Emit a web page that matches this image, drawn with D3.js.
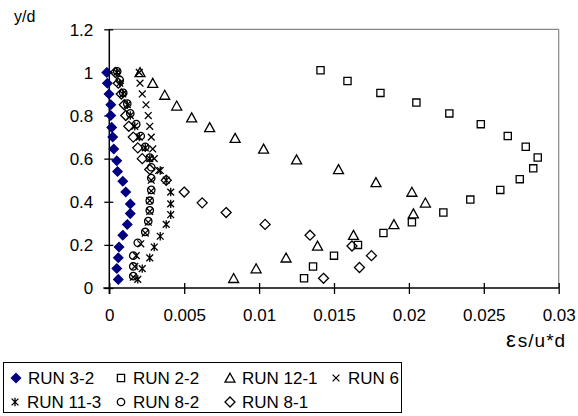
<!DOCTYPE html>
<html>
<head>
<meta charset="utf-8">
<script src="https://cdn.jsdelivr.net/npm/d3@7"></script>
<style>
  html, body { margin: 0; padding: 0; background: #fff; }
  svg { display: block; }
  text { font-family: "Liberation Sans", Arial, sans-serif; fill: #000; }
</style>
</head>
<body>
<svg id="chart" width="578" height="416"></svg>
<script>
// Relative depth y/d and the profile value εs/u*d for each run
const run32_y  = [1.0, 0.95, 0.9, 0.85, 0.8, 0.745, 0.7, 0.645, 0.59, 0.54, 0.495, 0.445, 0.39, 0.345, 0.295, 0.245, 0.19, 0.14, 0.09, 0.04];
const run32_x  = [-0.00017, -0.00013, -0.00002, 0.0001, 0.0001, 0.00016, 0.00023, 0.0003, 0.0005, 0.00055, 0.0009, 0.0011, 0.0014, 0.0014, 0.0012, 0.0009, 0.00065, 0.0006, 0.0005, 0.0006];

const run22_y  = [1.01, 0.96, 0.905, 0.86, 0.81, 0.76, 0.705, 0.655, 0.605, 0.555, 0.505, 0.455, 0.41, 0.35, 0.305, 0.255, 0.2, 0.15, 0.1, 0.045];
const run22_x  = [0.0141, 0.0159, 0.0181, 0.0205, 0.0227, 0.0248, 0.0266, 0.0278, 0.0286, 0.0283, 0.0274, 0.0261, 0.0241, 0.0223, 0.0202, 0.0183, 0.0166, 0.015, 0.0136, 0.013];

const run121_y = [1.0, 0.95, 0.895, 0.845, 0.79, 0.745, 0.695, 0.645, 0.595, 0.55, 0.49, 0.445, 0.395, 0.345, 0.295, 0.245, 0.195, 0.14, 0.09, 0.045];
const run121_x = [0.00205, 0.0029, 0.0037, 0.0045, 0.0055, 0.0067, 0.0084, 0.0103, 0.0125, 0.0153, 0.0178, 0.0202, 0.0211, 0.0203, 0.019, 0.0163, 0.0139, 0.0118, 0.0098, 0.0083];

const run6_y   = [1.0, 0.95, 0.9, 0.85, 0.8, 0.75, 0.7, 0.645, 0.6, 0.545, 0.5, 0.45, 0.405, 0.355, 0.305, 0.255, 0.205, 0.15, 0.1, 0.05];
const run6_x   = [0.002, 0.00205, 0.0022, 0.00245, 0.0026, 0.0027, 0.0028, 0.0029, 0.003, 0.0033, 0.0028, 0.0028, 0.0027, 0.0027, 0.0026, 0.0024, 0.0021, 0.0018, 0.0017, 0.0016];

const run113_y = [1.0, 0.95, 0.9, 0.85, 0.8, 0.75, 0.7, 0.65, 0.6, 0.545, 0.5, 0.445, 0.39, 0.34, 0.295, 0.24, 0.19, 0.14, 0.09, 0.04];
const run113_x = [0.0005, 0.0007, 0.0009, 0.0012, 0.0014, 0.0017, 0.002, 0.0024, 0.0027, 0.0034, 0.0038, 0.0041, 0.0041, 0.0041, 0.0038, 0.0034, 0.003, 0.0027, 0.0022, 0.0019];

const run82_y  = [1.005, 0.965, 0.905, 0.855, 0.81, 0.76, 0.705, 0.655, 0.605, 0.56, 0.51, 0.455, 0.405, 0.36, 0.31, 0.26, 0.21, 0.15, 0.1, 0.055];
const run82_x  = [0.00053, 0.0007, 0.00093, 0.0012, 0.0014, 0.0018, 0.0021, 0.0024, 0.0027, 0.0028, 0.0028, 0.0028, 0.0027, 0.0027, 0.0026, 0.0024, 0.0019, 0.0016, 0.0016, 0.0016];

const run81_y  = [1.0, 0.95, 0.9, 0.85, 0.8, 0.75, 0.7, 0.65, 0.6, 0.55, 0.5, 0.445, 0.395, 0.35, 0.295, 0.245, 0.195, 0.15, 0.095, 0.045];
const run81_x  = [0.0004, 0.0006, 0.0008, 0.001, 0.0011, 0.0013, 0.0016, 0.0019, 0.0022, 0.0027, 0.0038, 0.005, 0.0062, 0.0078, 0.0104, 0.0134, 0.0162, 0.0175, 0.0167, 0.0143];

const seriesNames = ["RUN 3-2", "RUN 2-2", "RUN 12-1", "RUN 6", "RUN 11-3", "RUN 8-2", "RUN 8-1"];
const xTicks = [0, 0.005, 0.01, 0.015, 0.02, 0.025, 0.03];
const xTickLabels = ["0", "0.005", "0.01", "0.015", "0.02", "0.025", "0.03"];
const yTicks = [0, 0.2, 0.4, 0.6, 0.8, 1.0, 1.2];
const yTickLabels = ["0", "0.2", "0.4", "0.6", "0.8", "1", "1.2"];

// Marker shapes (path strings centred on 0,0)
const shapes = {
  diamondFill: "M0,-4.6L4.6,0L0,4.6L-4.6,0Z",
  square: "M-3.6,-3.6H3.6V3.6H-3.6Z",
  triangle: "M0,-4.8L5,4.2H-5Z",
  cross: "M-3.4,-3.4L3.4,3.4M3.4,-3.4L-3.4,3.4",
  star: "M-3.4,-3.4L3.4,3.4M3.4,-3.4L-3.4,3.4M0,-4.2V4.2",
  circle: "M3.7,0A3.7,3.7 0 1,1 -3.7,0A3.7,3.7 0 1,1 3.7,0Z",
  diamond: "M0,-5L5,0L0,5L-5,0Z"
};

const series = [
  { name: seriesNames[0], xs: run32_x,  ys: run32_y,  shape: shapes.diamondFill, fill: "#000080", stroke: "#000080" },
  { name: seriesNames[1], xs: run22_x,  ys: run22_y,  shape: shapes.square,      fill: "none",    stroke: "#000" },
  { name: seriesNames[2], xs: run121_x, ys: run121_y, shape: shapes.triangle,    fill: "none",    stroke: "#000" },
  { name: seriesNames[3], xs: run6_x,   ys: run6_y,   shape: shapes.cross,       fill: "none",    stroke: "#000" },
  { name: seriesNames[4], xs: run113_x, ys: run113_y, shape: shapes.star,        fill: "none",    stroke: "#000" },
  { name: seriesNames[5], xs: run82_x,  ys: run82_y,  shape: shapes.circle,      fill: "none",    stroke: "#000" },
  { name: seriesNames[6], xs: run81_x,  ys: run81_y,  shape: shapes.diamond,     fill: "none",    stroke: "#000" }
];

const svg = d3.select("#chart");
const x = d3.scaleLinear().domain([0, 0.03]).range([109.3, 558.7]);
const y = d3.scaleLinear().domain([0, 1.2]).range([288, 29.3]);

// plot-area frame (top and right edges)
svg.append("path")
  .attr("d", `M${x(0)},${y(1.2)}H${x(0.03)}V${y(0)}`)
  .attr("fill", "none").attr("stroke", "#888").attr("stroke-width", 1.2);

// axes with ticks crossing the axis line
const xAxis = d3.axisBottom(x).tickValues(xTicks).tickSize(0).tickFormat((d, i) => xTickLabels[i]);
const gx = svg.append("g").attr("transform", `translate(0,${y(0)})`).call(xAxis);
gx.select(".domain").remove();
gx.append("line").attr("x1", x(0) - 6).attr("x2", x(0.03)).attr("stroke", "#000").attr("stroke-width", 1.5);
gx.selectAll(".tick").append("line").attr("y1", -5).attr("y2", 6).attr("stroke", "#000").attr("stroke-width", 1.3);
gx.selectAll(".tick text").attr("y", 33).attr("dy", 0).attr("font-size", 17).attr("font-family", "Liberation Sans, Arial, sans-serif");

const yAxis = d3.axisLeft(y).tickValues(yTicks).tickSize(0).tickFormat((d, i) => yTickLabels[i]);
const gy = svg.append("g").attr("transform", `translate(${x(0)},0)`).call(yAxis);
gy.select(".domain").remove();
gy.append("line").attr("y1", y(1.2)).attr("y2", y(0) + 6).attr("stroke", "#000").attr("stroke-width", 1.5);
gy.selectAll(".tick").append("line").attr("x1", -5).attr("x2", 4).attr("stroke", "#000").attr("stroke-width", 1.3);
gy.selectAll(".tick text").attr("x", -16).attr("dy", "0.35em").attr("font-size", 17).attr("font-family", "Liberation Sans, Arial, sans-serif");

// axis titles
svg.append("text").attr("x", 14).attr("y", 22).attr("font-size", 16).text("y/d");
const xt = svg.append("text").attr("x", 506).attr("y", 347).attr("font-size", 19).attr("letter-spacing", 1);
xt.append("tspan").attr("font-size", 22).text("ε");
xt.append("tspan").attr("dx", 1).text("s/u*d");

// data markers
series.forEach(s => {
  const pts = s.xs.map((v, i) => [v, s.ys[i]]);
  svg.append("g").selectAll("path")
    .data(pts).join("path")
    .attr("transform", d => `translate(${x(d[0])},${y(d[1])})`)
    .attr("d", s.shape)
    .attr("fill", s.fill)
    .attr("stroke", s.stroke)
    .attr("stroke-width", 1.3);
});

// legend
const lg = svg.append("g");
lg.append("rect").attr("x", 3.5).attr("y", 362.5).attr("width", 398).attr("height", 50)
  .attr("fill", "#fff").attr("stroke", "#000").attr("stroke-width", 1);
const legendPos = [
  [16, 378], [121, 378], [230, 378], [336, 378],
  [15, 402], [121, 402], [230, 402]
];
series.forEach((s, i) => {
  const [lx, ly] = legendPos[i];
  lg.append("path").attr("transform", `translate(${lx},${ly})`).attr("d", s.shape)
    .attr("fill", s.fill).attr("stroke", s.stroke).attr("stroke-width", 1.3);
  lg.append("text").attr("x", lx + 12).attr("y", ly + 6).attr("font-size", 17).text(s.name);
});
</script>
</body>
</html>
